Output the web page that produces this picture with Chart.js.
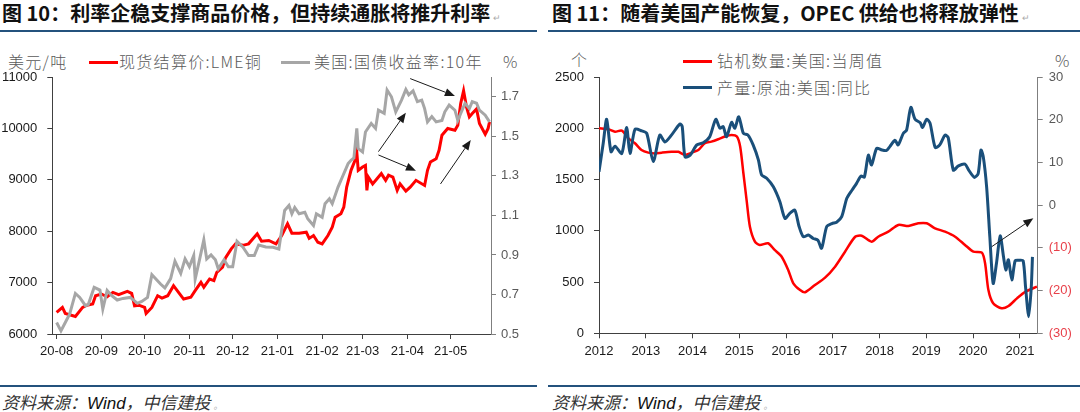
<!DOCTYPE html>
<html>
<head>
<meta charset="utf-8">
<script src="https://cdn.jsdelivr.net/npm/chart.js@4.4.1/dist/chart.umd.min.js"></script>
<style>
  body { margin: 0; width: 1080px; height: 412px; background: #fff; position: relative; overflow: hidden;
         font-family: "Noto Sans CJK SC", "Noto Sans", sans-serif; }
  .title { position: absolute; top: 0; font-size: 20px; font-weight: bold; color: #111; white-space: nowrap; line-height: 26px; }
  .mark { font-size: 9px; color: #aaa; font-weight: normal; margin-left: 3px; }
  .rule { position: absolute; height: 2px; background: #24527d; }
  .src { position: absolute; top: 389px; font-size: 17px; font-style: italic; color: #333; white-space: nowrap; line-height: 26px; }
  .src .w { font-family: "Liberation Sans", Arial, sans-serif; color: #111; }
  .src .sq { text-decoration: underline wavy #5b7fc7; text-decoration-thickness: 1px; text-underline-offset: 3px; }
  .lab { position: absolute; font-size: 16px; font-weight: 300; color: #595959; letter-spacing: 1.3px; white-space: nowrap; line-height: 20px; }
  .key { position: absolute; height: 3px; width: 29px; }
  canvas { position: absolute; top: 40px; }
</style>
</head>
<body>

<div class="title" style="left:2px">图 10：利率企稳支撑商品价格，但持续通胀将推升利率<span class="mark">↵</span></div>
<div class="title" style="left:552px">图 11：随着美国产能恢复，OPEC 供给也将释放弹性<span class="mark">↵</span></div>
<div class="rule" style="left:0;width:537px;top:30px"></div>
<div class="rule" style="left:548px;width:532px;top:30px"></div>

<div class="lab" style="left:8px;top:51px">美元/吨</div>
<div class="key" style="left:89px;top:61px;background:#ff0000"></div>
<div class="lab" style="left:119px;top:51px">现货结算价:LME铜</div>
<div class="key" style="left:281px;top:61px;background:#a6a6a6"></div>
<div class="lab" style="left:314px;top:51px">美国:国债收益率:10年</div>
<div class="lab" style="left:503px;top:51px">%</div>

<div class="lab" style="left:571px;top:49px">个</div>
<div class="key" style="left:683px;top:60px;background:#ff0000"></div>
<div class="lab" style="left:717px;top:50px">钻机数量:美国:当周值</div>
<div class="key" style="left:683px;top:86px;background:#1a4f7a"></div>
<div class="lab" style="left:717px;top:77px">产量:原油:美国:同比</div>
<div class="lab" style="left:1055px;top:50px">%</div>

<canvas id="copperChart" width="540" height="340" style="left:0"></canvas>
<canvas id="oilChart" width="540" height="340" style="left:540px"></canvas>

<div class="rule" style="left:0;width:537px;top:385px"></div>
<div class="rule" style="left:548px;width:532px;top:385px"></div>
<div class="src" style="left:2px">资料来源：<span class="w">Wind</span>，中<span class="sq">信建投</span><span class="mark">。</span></div>
<div class="src" style="left:552px">资料来源：<span class="w">Wind</span>，中<span class="sq">信建投</span><span class="mark">。</span></div>

<script>
// ---- figure 10: LME copper vs US 10y yield ----
const copperDates = ["2020-08-01","2020-08-05","2020-08-07","2020-08-14","2020-08-19","2020-08-22","2020-08-26","2020-08-28",
  "2020-09-01","2020-09-05","2020-09-09","2020-09-13","2020-09-19","2020-09-22","2020-09-24","2020-09-27",
  "2020-10-01","2020-10-02","2020-10-06","2020-10-10","2020-10-13","2020-10-17","2020-10-21","2020-10-25","2020-10-28",
  "2020-11-02","2020-11-05","2020-11-09","2020-11-11","2020-11-15","2020-11-18","2020-11-20","2020-11-24","2020-11-26","2020-11-30",
  "2020-12-03","2020-12-08","2020-12-12","2020-12-18","2020-12-21","2020-12-26","2020-12-31",
  "2021-01-04","2021-01-08","2021-01-11","2021-01-16","2021-01-21","2021-01-23","2021-01-26","2021-01-29",
  "2021-02-01","2021-02-05","2021-02-08","2021-02-10","2021-02-14","2021-02-16","2021-02-18","2021-02-21","2021-02-24","2021-02-25","2021-02-26",
  "2021-03-01","2021-03-03","2021-03-04","2021-03-05","2021-03-08","2021-03-11","2021-03-14","2021-03-17","2021-03-19","2021-03-22","2021-03-25","2021-03-27","2021-03-31",
  "2021-04-03","2021-04-07","2021-04-13","2021-04-15","2021-04-17","2021-04-21","2021-04-23","2021-04-25","2021-04-29",
  "2021-05-04","2021-05-06","2021-05-08","2021-05-10","2021-05-12","2021-05-14","2021-05-16","2021-05-19","2021-05-21","2021-05-25","2021-05-27","2021-05-28"];
const copperPrice = [6420,6517,6400,6341,6517,6560,6583,6745,
  6778,6725,6810,6765,6830,6790,6550,6560,
  6517,6400,6517,6745,6700,6745,6940,6790,6680,
  6715,6843,7005,6910,7070,7040,7200,7300,7480,7656,
  7754,7725,7754,7950,7805,7820,7754,
  7916,8144,7961,7960,7980,7860,7916,7786,
  7754,7916,8078,8273,8340,8468,8858,9184,9393,9541,9184,
  9250,9280,8794,9053,8920,9020,9120,8990,9090,9053,8794,8920,8780,
  8858,8990,8890,9184,9346,9410,9574,9867,9998,
  9965,10062,10486,10731,10420,10224,10290,10380,10095,9886,10000,10127];

const yieldDates = ["2020-08-01","2020-08-04","2020-08-07","2020-08-10","2020-08-14","2020-08-17","2020-08-21","2020-08-23","2020-08-27","2020-08-31",
  "2020-09-02","2020-09-05","2020-09-08","2020-09-12","2020-09-16","2020-09-21","2020-09-26","2020-09-29",
  "2020-10-03","2020-10-06","2020-10-08","2020-10-12","2020-10-15","2020-10-19","2020-10-22","2020-10-26","2020-10-29",
  "2020-11-01","2020-11-04","2020-11-05","2020-11-08","2020-11-11","2020-11-13","2020-11-16","2020-11-19","2020-11-21","2020-11-25","2020-11-28",
  "2020-12-01","2020-12-04","2020-12-08","2020-12-12","2020-12-16","2020-12-19","2020-12-24","2020-12-29",
  "2021-01-02","2021-01-06","2021-01-09","2021-01-11","2021-01-13","2021-01-16","2021-01-20","2021-01-22","2021-01-26","2021-01-28",
  "2021-02-01","2021-02-03","2021-02-06","2021-02-08","2021-02-12","2021-02-15","2021-02-19","2021-02-21","2021-02-23","2021-02-25","2021-02-26",
  "2021-03-01","2021-03-03","2021-03-07","2021-03-10","2021-03-12","2021-03-16","2021-03-18","2021-03-21","2021-03-24","2021-03-28","2021-03-31",
  "2021-04-02","2021-04-05","2021-04-08","2021-04-11","2021-04-13","2021-04-15","2021-04-18","2021-04-21","2021-04-25","2021-04-27","2021-04-30",
  "2021-05-04","2021-05-06","2021-05-08","2021-05-11","2021-05-14","2021-05-16","2021-05-19","2021-05-21","2021-05-25","2021-05-28"];
const yield10y = [0.558,0.516,0.558,0.600,0.705,0.685,0.643,0.650,0.736,0.722,
  0.626,0.720,0.695,0.672,0.680,0.685,0.655,0.665,
  0.685,0.800,0.785,0.753,0.733,0.780,0.868,0.807,0.880,
  0.840,0.897,0.778,0.875,0.976,0.880,0.900,0.875,0.830,0.875,0.840,
  0.840,0.969,0.940,0.897,0.897,0.950,0.940,0.939,
  0.930,1.125,1.150,1.108,1.140,1.108,1.116,1.083,1.049,1.108,
  1.090,1.159,1.184,1.159,1.243,1.294,1.362,1.379,1.390,1.540,1.438,
  1.421,1.522,1.565,1.540,1.632,1.616,1.734,1.700,1.624,1.683,1.737,
  1.710,1.730,1.675,1.683,1.640,1.573,1.600,1.573,1.580,1.624,1.658,
  1.632,1.580,1.616,1.667,1.640,1.675,1.667,1.632,1.607,1.573];

const copperMonths = ["2020-08","2020-09","2020-10","2020-11","2020-12","2021-01","2021-02","2021-03","2021-04","2021-05"];
const copperMonthLabels = ["20-08","20-09","20-10","20-11","20-12","21-01","21-02","21-03","21-04","21-05"];
const copperTicks = [6000, 7000, 8000, 9000, 10000, 11000];
const yieldTicks = [0.5, 0.7, 0.9, 1.1, 1.3, 1.5, 1.7];
// arrows in data units: [date, copper price]
const copperArrows = [
  { from: ["2021-04-03", 10969], to: ["2021-05-04", 10631] },
  { from: ["2021-03-12", 9548], to: ["2021-03-31", 10306] },
  { from: ["2021-03-12", 9483], to: ["2021-04-07", 9178] },
  { from: ["2021-04-24", 8919], to: ["2021-05-15", 9775] }
];

// ---- figure 11: US rig count vs crude output yoy ----
const rigDates = ["2012-01-01","2012-03-15","2012-05-05","2012-06-27","2012-08-18","2012-10-08","2012-11-28",
  "2013-01-20","2013-03-15","2013-05-05","2013-07-20","2013-09-12","2013-11-03","2013-12-25",
  "2014-02-15","2014-04-07","2014-05-28","2014-07-20","2014-09-12","2014-11-01","2014-12-13",
  "2015-01-08","2015-02-02","2015-02-27","2015-03-25","2015-05-03","2015-06-10","2015-08-14","2015-10-04","2015-11-28",
  "2016-01-18","2016-02-27","2016-04-20","2016-05-28","2016-08-14","2016-10-30",
  "2017-01-18","2017-04-06","2017-06-24","2017-08-14","2017-10-30","2017-12-21",
  "2018-03-10","2018-05-27","2018-08-14","2018-10-30",
  "2019-01-04","2019-03-10","2019-05-27","2019-08-14","2019-10-30",
  "2020-01-04","2020-03-10","2020-04-04","2020-04-30","2020-06-06","2020-08-11","2020-10-04","2020-12-09",
  "2021-02-14","2021-05-14"];
const rigCount = [2000,1990,1967,1977,1902,1854,1788,
  1762,1755,1762,1770,1770,1740,1762,
  1788,1854,1870,1893,1920,1935,1920,
  1820,1561,1300,1040,894,862,878,813,747,
  618,488,422,400,471,540,
  650,796,942,952,894,942,
  991,1057,1047,1073,
  1073,1024,991,942,862,
  796,786,683,422,293,244,266,341,
  406,455];

const outputDates = ["2012-01-01","2012-02-03","2012-03-01","2012-04-04","2012-05-05","2012-06-27","2012-08-04","2012-08-30","2012-10-09","2012-11-30",
  "2013-01-08","2013-02-28","2013-04-20","2013-05-30","2013-07-20","2013-09-24","2013-10-12","2013-11-03","2013-12-13",
  "2014-02-03","2014-03-25","2014-05-15","2014-07-01","2014-08-03","2014-08-28","2014-09-23","2014-11-02","2014-11-27","2014-12-28",
  "2015-02-02","2015-03-10","2015-04-19","2015-05-30","2015-06-24","2015-08-03","2015-09-24","2015-11-14","2015-12-24",
  "2016-02-03","2016-03-10","2016-04-12","2016-05-15","2016-06-24","2016-07-31","2016-09-06","2016-10-05","2016-11-14","2016-12-24",
  "2017-01-30","2017-03-11","2017-04-20","2017-05-30","2017-07-05","2017-08-08","2017-09-04","2017-10-05","2017-10-30","2017-12-09",
  "2018-01-19","2018-02-24","2018-03-22","2018-05-01","2018-05-26","2018-07-05","2018-07-31","2018-09-02","2018-10-05","2018-11-14","2018-12-02",
  "2019-01-04","2019-01-30","2019-03-11","2019-04-16","2019-05-27","2019-06-21","2019-07-31","2019-09-09","2019-10-30","2019-11-28",
  "2020-01-11","2020-02-10","2020-03-03","2020-03-21","2020-04-16","2020-05-11","2020-06-06","2020-07-02","2020-07-31","2020-08-26",
  "2020-09-13","2020-10-03","2020-10-30","2020-11-25","2020-12-24",
  "2021-01-26","2021-02-14","2021-03-11","2021-03-31","2021-04-09"];
const outputYoy = [7.8,14.5,20.1,12.5,13.8,12.1,18.2,12.1,17.8,17.4,
  16.8,10.2,16.4,14.8,16.4,19.0,18.4,11.3,11.7,
  14.1,14.6,16.0,20.1,18.0,18.4,16.0,19.4,18.0,20.7,
  16.8,16.4,14.1,10.6,7.1,6.3,4.3,0.8,-3.1,
  -1.8,-1.2,-5.0,-7.4,-7.0,-7.8,-8.2,-10.1,-5.0,-4.3,
  -4.0,-2.7,1.6,3.5,5.1,6.8,6.6,11.7,9.4,13.3,
  12.9,12.8,13.7,15.2,14.1,16.8,17.6,22.9,20.1,19.3,18.2,
  20.1,19.2,13.5,14.1,16.4,15.8,8.2,9.2,9.6,8.2,
  6.5,7.4,12.9,11.3,4.3,-7.4,-18.3,-13.6,-7.2,-12.1,
  -15.2,-12.8,-17.5,-13.0,-12.9,
  -13.0,-19.1,-26.1,-19.1,-12.1];

const oilYears = ["2012","2013","2014","2015","2016","2017","2018","2019","2020","2021"];
const rigTicks = [0, 500, 1000, 1500, 2000, 2500];
const yoyTicks = [-30, -20, -10, 0, 10, 20, 30];
const oilArrows = [
  { from: ["2020-05-26", 845], to: ["2021-04-16", 1122] }
];

function toMs(d) {
  const p = d.split("-").map(Number);
  return Date.UTC(p[0], (p[1] || 1) - 1, p[2] || 1);
}
function pts(dates, vals) {
  return dates.map((d, i) => ({ x: toMs(d), y: vals[i] }));
}

const tickFont = { family: "'Liberation Sans', Arial, sans-serif", size: 13 };

const arrowPlugin = {
  id: "arrows",
  afterDatasetsDraw(chart, args, opts) {
    const { ctx, scales } = chart;
    ctx.save();
    ctx.strokeStyle = "#1a1a1a";
    ctx.fillStyle = "#1a1a1a";
    ctx.lineWidth = 1;
    (opts.list || []).forEach(a => {
      const x1 = scales.x.getPixelForValue(toMs(a.from[0]));
      const y1 = scales.y.getPixelForValue(a.from[1]);
      const x2 = scales.x.getPixelForValue(toMs(a.to[0]));
      const y2 = scales.y.getPixelForValue(a.to[1]);
      const ang = Math.atan2(y2 - y1, x2 - x1);
      const head = 10, half = 4;
      const bx = x2 - head * Math.cos(ang), by = y2 - head * Math.sin(ang);
      ctx.beginPath();
      ctx.moveTo(x1, y1);
      ctx.lineTo(bx, by);
      ctx.stroke();
      ctx.beginPath();
      ctx.moveTo(x2, y2);
      ctx.lineTo(bx + half * Math.sin(ang), by - half * Math.cos(ang));
      ctx.lineTo(bx - half * Math.sin(ang), by + half * Math.cos(ang));
      ctx.closePath();
      ctx.fill();
    });
    ctx.restore();
  }
};

function axisGrid(color) {
  return { drawOnChartArea: false, drawTicks: true, tickLength: 5, color: color, lineWidth: 1 };
}

new Chart(document.getElementById("copperChart"), {
  type: "line",
  data: {
    datasets: [
      { label: "现货结算价:LME铜", data: pts(copperDates, copperPrice), yAxisID: "y",
        borderColor: "#ff0000", borderWidth: 3, pointRadius: 0, tension: 0, order: 2 },
      { label: "美国:国债收益率:10年", data: pts(yieldDates, yield10y), yAxisID: "y1",
        borderColor: "#a6a6a6", borderWidth: 3, pointRadius: 0, tension: 0, order: 1 }
    ]
  },
  options: {
    responsive: false,
    animation: false,
    layout: { padding: { top: 37, bottom: 16, left: 0, right: 0 } },
    plugins: { legend: { display: false }, tooltip: { enabled: false }, arrows: { list: copperArrows } },
    scales: {
      x: {
        type: "linear", min: toMs("2020-07-29"), max: toMs("2021-05-29"),
        afterBuildTicks: s => { s.ticks = copperMonths.map(m => ({ value: toMs(m) })); },
        afterFit: s => { s.height = 30; },
        ticks: { callback: (v, i) => copperMonthLabels[i], font: tickFont, color: "#1a1a1a", padding: 5, maxRotation: 0, autoSkip: false },
        grid: axisGrid("#404040"), border: { color: "#404040", width: 1 }
      },
      y: {
        position: "left", min: 6000, max: 11000,
        afterBuildTicks: s => { s.ticks = copperTicks.map(v => ({ value: v })); },
        afterFit: s => { s.width = 52.3; },
        ticks: { font: tickFont, color: "#1a1a1a", padding: 10, callback: v => String(v) },
        grid: axisGrid("#404040"), border: { color: "#404040", width: 1 }
      },
      y1: {
        position: "right", min: 0.5, max: 1.8,
        afterBuildTicks: s => { s.ticks = yieldTicks.map(v => ({ value: v })); },
        afterFit: s => { s.width = 49; },
        ticks: { font: tickFont, color: "#595959", padding: 5, callback: v => v.toFixed(1) },
        grid: axisGrid("#7f7f7f"), border: { color: "#7f7f7f", width: 1 }
      }
    }
  },
  plugins: [arrowPlugin]
});

new Chart(document.getElementById("oilChart"), {
  type: "line",
  data: {
    datasets: [
      { label: "钻机数量:美国:当周值", data: pts(rigDates, rigCount), yAxisID: "y",
        borderColor: "#ff0000", borderWidth: 2.5, pointRadius: 0, tension: 0.25, order: 2 },
      { label: "产量:原油:美国:同比", data: pts(outputDates, outputYoy), yAxisID: "y1",
        borderColor: "#1a4f7a", borderWidth: 3, pointRadius: 0, tension: 0.25, order: 1 }
    ]
  },
  options: {
    responsive: false,
    animation: false,
    layout: { padding: { top: 37, bottom: 16.7, left: 0, right: 0 } },
    plugins: { legend: { display: false }, tooltip: { enabled: false }, arrows: { list: oilArrows } },
    scales: {
      x: {
        type: "linear", min: toMs("2012-01-01"), max: toMs("2021-05-20"),
        afterBuildTicks: s => { s.ticks = oilYears.map(y => ({ value: toMs(y) })); },
        afterFit: s => { s.height = 30; },
        ticks: { callback: (v, i) => oilYears[i], font: tickFont, color: "#1a1a1a", padding: 5, maxRotation: 0, autoSkip: false },
        grid: axisGrid("#404040"), border: { color: "#404040", width: 1 }
      },
      y: {
        position: "left", min: 0, max: 2500,
        afterBuildTicks: s => { s.ticks = rigTicks.map(v => ({ value: v })); },
        afterFit: s => { s.width = 59; },
        ticks: { font: tickFont, color: "#1a1a1a", padding: 10, callback: v => String(v) },
        grid: axisGrid("#404040"), border: { color: "#404040", width: 1 }
      },
      y1: {
        position: "right", min: -30, max: 30,
        afterBuildTicks: s => { s.ticks = yoyTicks.map(v => ({ value: v })); },
        afterFit: s => { s.width = 42.3; },
        ticks: {
          font: tickFont, padding: 6,
          color: c => (c.tick && c.tick.value < 0) ? "#e8404a" : "#595959",
          callback: v => v < 0 ? "(" + Math.abs(v) + ")" : String(v)
        },
        grid: axisGrid("#7f7f7f"), border: { color: "#7f7f7f", width: 1 }
      }
    }
  },
  plugins: [arrowPlugin]
});
</script>
</body>
</html>
